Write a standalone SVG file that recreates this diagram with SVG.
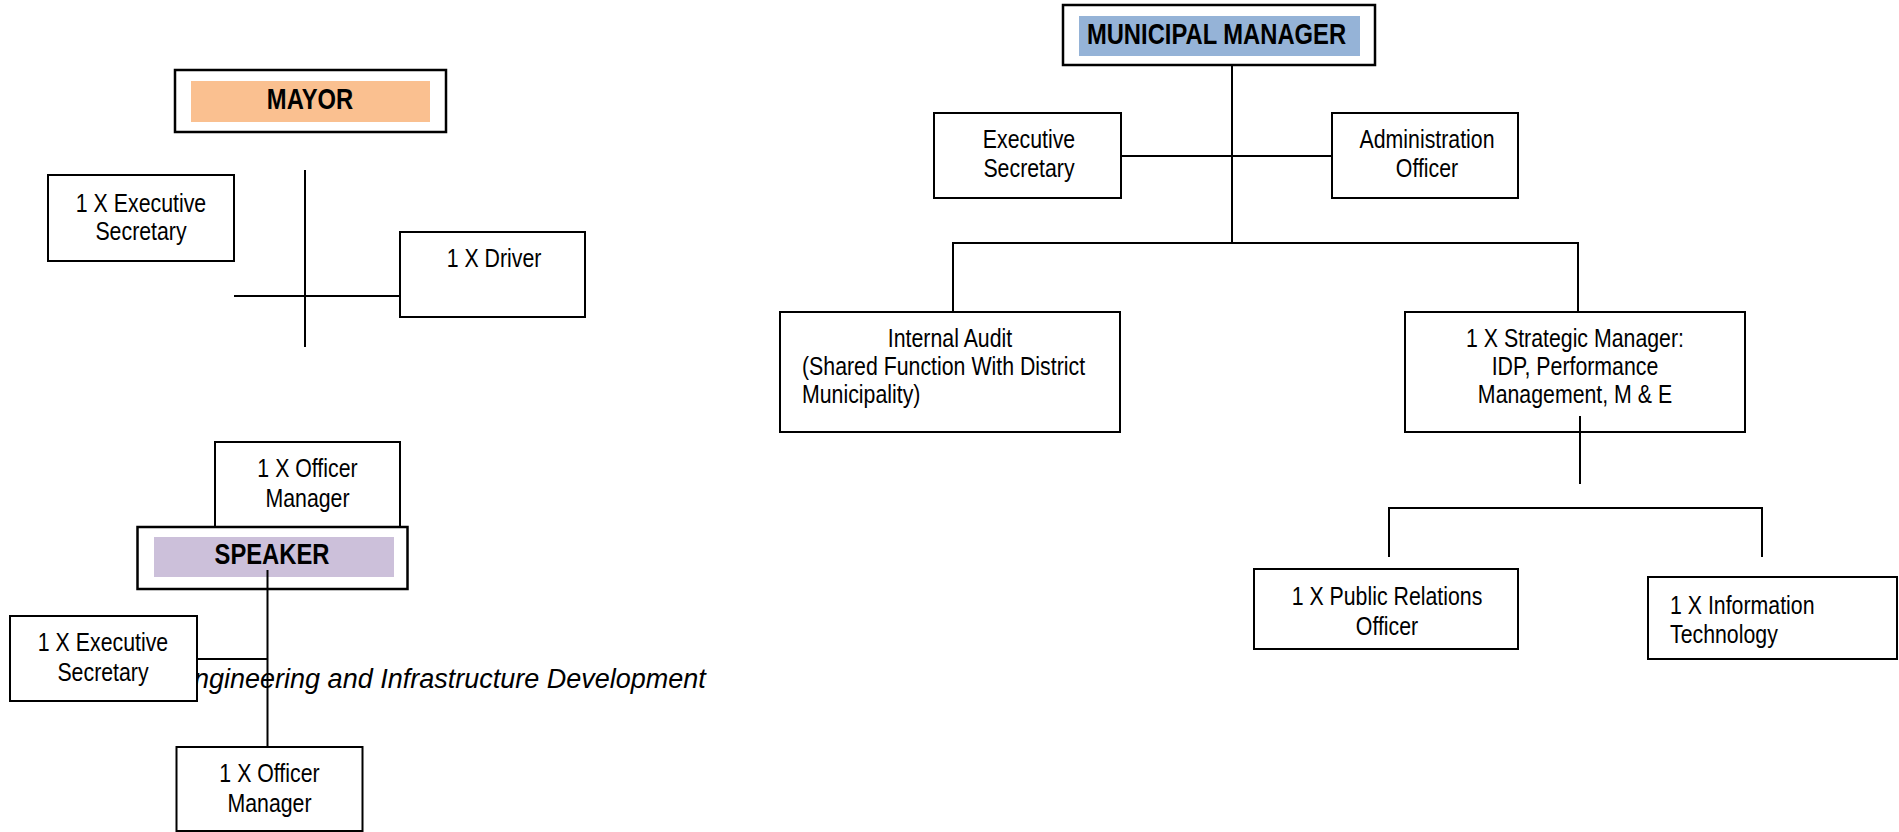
<svg xmlns="http://www.w3.org/2000/svg" width="1899" height="832" viewBox="0 0 1899 832">
  <style>
    .box { fill: #ffffff; stroke: #000000; stroke-width: 2; }
    .head { fill: #ffffff; stroke: #000000; stroke-width: 2.5; }
    .wire { fill: none; stroke: #000000; stroke-width: 2; }
    text { font-family: "Liberation Sans", Arial, sans-serif; fill: #000000; }
    .lbl { font-size: 26px; }
    .ttl { font-size: 29px; font-weight: bold; }
    .mid { text-anchor: middle; }
    .note { font-style: italic; font-size: 27px; }
  </style>
  <defs>
    <clipPath id="noteClip">
      <rect x="192" y="640" width="600" height="70"/>
    </clipPath>
  </defs>

  <!-- free-floating caption beside the speaker's office -->
  <text class="note" x="176" y="688" clip-path="url(#noteClip)">Engineering and Infrastructure Development</text>

  <!-- connectors -->
  <g id="connectors">
    <!-- mayor's office -->
    <line class="wire" x1="305" y1="170" x2="305" y2="347"/>
    <line class="wire" x1="234" y1="296" x2="400" y2="296"/>
    <!-- speaker's office -->
    <line class="wire" x1="267.5" y1="570" x2="267.5" y2="747"/>
    <line class="wire" x1="197" y1="659" x2="267.5" y2="659"/>
    <!-- municipal manager -->
    <line class="wire" x1="1232" y1="65" x2="1232" y2="243"/>
    <line class="wire" x1="1121" y1="156" x2="1332" y2="156"/>
    <polyline class="wire" points="953,312 953,243 1578,243 1578,312"/>
    <!-- strategic manager -->
    <line class="wire" x1="1580" y1="416" x2="1580" y2="484"/>
    <polyline class="wire" points="1389,557 1389,508 1762,508 1762,557"/>
  </g>

  <!-- narrow lettering: each label is placed by translate() and condensed by scale(0.82 1) -->

  <!-- mayor -->
  <g id="mayor">
    <rect class="head" x="175" y="70" width="271" height="62"/>
    <rect x="191" y="81" width="239" height="41" fill="#FAC090"/>
    <text class="ttl mid" transform="translate(310 109) scale(0.82 1)">MAYOR</text>
  </g>
  <g id="mayor-secretary">
    <rect class="box" x="48" y="175" width="186" height="86"/>
    <text class="lbl mid" transform="translate(141 211.5) scale(0.82 1)">1 X Executive</text>
    <text class="lbl mid" transform="translate(141 240) scale(0.82 1)">Secretary</text>
  </g>
  <g id="mayor-driver">
    <rect class="box" x="400" y="232" width="185" height="85"/>
    <text class="lbl mid" transform="translate(494 267) scale(0.82 1)">1 X Driver</text>
  </g>

  <!-- speaker -->
  <g id="speaker-office-manager-top">
    <rect class="box" x="215" y="442" width="185" height="86"/>
    <text class="lbl mid" transform="translate(307.5 477) scale(0.82 1)">1 X Officer</text>
    <text class="lbl mid" transform="translate(307.5 507) scale(0.82 1)">Manager</text>
  </g>
  <g id="speaker">
    <rect class="head" x="137.5" y="527" width="270" height="62"/>
    <rect x="154" y="537" width="240" height="40" fill="#CCC0DA"/>
    <text class="ttl mid" transform="translate(272 564) scale(0.82 1)">SPEAKER</text>
    <!-- connector stub drawn over the fill -->
    <line class="wire" x1="267.5" y1="570" x2="267.5" y2="589"/>
  </g>
  <g id="speaker-secretary">
    <rect class="box" x="10" y="616" width="187" height="85"/>
    <text class="lbl mid" transform="translate(103 651) scale(0.82 1)">1 X Executive</text>
    <text class="lbl mid" transform="translate(103 680.5) scale(0.82 1)">Secretary</text>
  </g>
  <g id="speaker-office-manager-bottom">
    <rect class="box" x="176.5" y="747" width="186" height="84"/>
    <text class="lbl mid" transform="translate(269.5 782) scale(0.82 1)">1 X Officer</text>
    <text class="lbl mid" transform="translate(269.5 811.5) scale(0.82 1)">Manager</text>
  </g>

  <!-- municipal manager -->
  <g id="municipal-manager">
    <rect class="head" x="1063" y="5" width="312" height="60"/>
    <rect x="1079" y="16" width="281" height="40" fill="#95B3D7"/>
    <text class="ttl mid" transform="translate(1216.5 44) scale(0.82 1)">MUNICIPAL MANAGER</text>
  </g>
  <g id="mm-secretary">
    <rect class="box" x="934" y="113" width="187" height="85"/>
    <text class="lbl mid" transform="translate(1029 148) scale(0.82 1)">Executive</text>
    <text class="lbl mid" transform="translate(1029 177) scale(0.82 1)">Secretary</text>
  </g>
  <g id="mm-admin-officer">
    <rect class="box" x="1332" y="113" width="186" height="85"/>
    <text class="lbl mid" transform="translate(1427 148) scale(0.82 1)">Administration</text>
    <text class="lbl mid" transform="translate(1427 177) scale(0.82 1)">Officer</text>
  </g>
  <g id="internal-audit">
    <rect class="box" x="780" y="312" width="340" height="120"/>
    <text class="lbl mid" transform="translate(950 346.5) scale(0.82 1)">Internal Audit</text>
    <text class="lbl" transform="translate(802 375) scale(0.82 1)">(Shared Function With District</text>
    <text class="lbl" transform="translate(802 402.5) scale(0.82 1)">Municipality)</text>
  </g>
  <g id="strategic-manager">
    <rect class="box" x="1405" y="312" width="340" height="120"/>
    <text class="lbl mid" transform="translate(1575 346.5) scale(0.82 1)">1 X Strategic Manager:</text>
    <text class="lbl mid" transform="translate(1575 375) scale(0.82 1)">IDP, Performance</text>
    <text class="lbl mid" transform="translate(1575 402.5) scale(0.82 1)">Management, M &amp; E</text>
    <!-- connector stub rising into the box -->
    <line class="wire" x1="1580" y1="416" x2="1580" y2="432"/>
  </g>
  <g id="public-relations">
    <rect class="box" x="1254" y="569" width="264" height="80"/>
    <text class="lbl mid" transform="translate(1387 605) scale(0.82 1)">1 X Public Relations</text>
    <text class="lbl mid" transform="translate(1387 635) scale(0.82 1)">Officer</text>
  </g>
  <g id="information-technology">
    <rect class="box" x="1648" y="577" width="249" height="82"/>
    <text class="lbl" transform="translate(1670 614) scale(0.82 1)">1 X Information</text>
    <text class="lbl" transform="translate(1670 643) scale(0.82 1)">Technology</text>
  </g>
</svg>
